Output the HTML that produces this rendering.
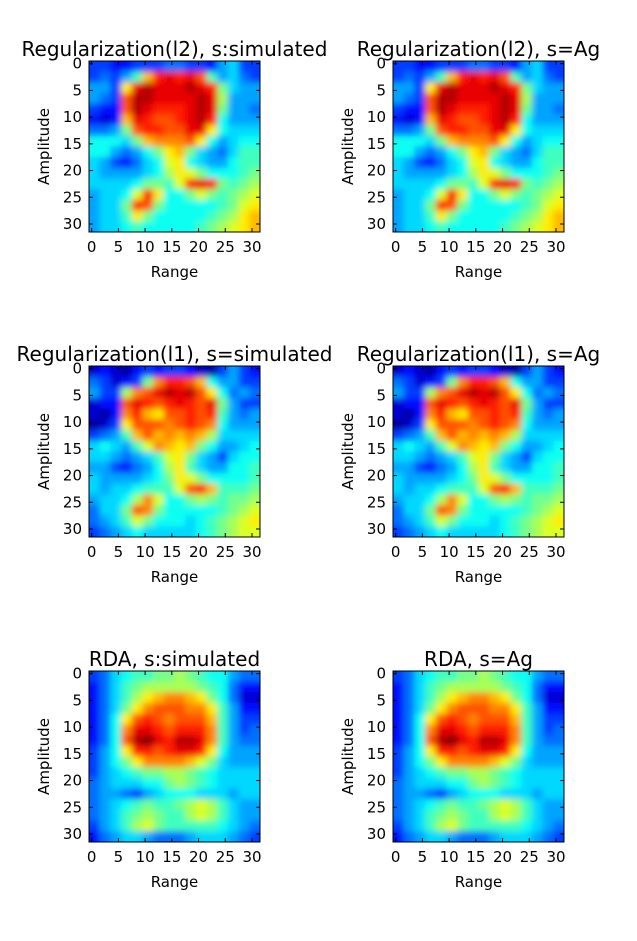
<!DOCTYPE html>
<html><head><meta charset="utf-8"><style>
html,body{margin:0;padding:0;background:#fff;}
svg{display:block;font-family:"DejaVu Sans","Liberation Sans",sans-serif;}
</style></head><body>
<svg id="fig" width="637" height="941" viewBox="0 0 637 941">
<defs>
<filter id="bl" x="0" y="0" width="637" height="941" filterUnits="userSpaceOnUse"><feGaussianBlur stdDeviation="3.3"/></filter>
</defs>
</svg>
<script>
const ticks=[0,5,10,15,20,25,30];
const tickLabels=["0","5","10","15","20","25","30"];
const titles=["Regularization(l2), s:simulated","Regularization(l2), s=Ag","Regularization(l1), s=simulated","Regularization(l1), s=Ag","RDA, s:simulated","RDA, s=Ag"];
const gridL2=[
[2,2,1.5,1.5,2,2,2,2.5,2.5,2,2,1.5,3,3.5,2,2],
[2,2.5,2,3,4.5,7,8.5,9,8.5,9,8,4.5,3,3.5,2.5,2],
[3,3,2,6.5,9,9.5,9,9,9,9.5,9,8.5,5,3.5,3,3],
[3,2.5,2,8,9.5,9.5,9,9,9,9,9.5,9,5.5,3,3,3],
[2,1.5,1.5,8,9.5,9,8.5,8.5,8.5,9,9.5,9,5,3,3,2.5],
[1.5,1,1.5,7,9,8.5,8,8,8.5,9,9.5,8.5,4,3,3,3],
[2.5,2.5,3,5,8,8.5,8.5,8,8,9,9,6.5,4,3.5,3.5,3.5],
[4,4,4,3.5,5,7,7.5,7.5,7.5,8,6.5,4,3,3.5,4,4],
[4,4,3,2.5,3,4,5,6.5,7,5,3.5,3,2.5,3.5,4.5,4.5],
[3.5,3,2,1.5,2.5,3.5,4,6,6.5,4,3.5,3,3,4,4.5,4.5],
[3.5,3,3,3,3,3.5,4,5.5,6.5,6,5,4,4,4,4.5,5],
[3.5,3.5,3.5,3.5,4,5,5,4.5,6,8.5,9,8.5,5,4.5,5,5.5],
[3,3.5,3.5,4,6,8.5,6.5,4,4,5,6,5,4.5,5,5.5,6],
[3,3.5,3.5,5,8.5,8,5,4,4,4,4,4,4.5,5,6,6.5],
[3,3.5,3.5,4.5,6.5,5,4,4,4,4,4,4.5,5,5.5,6.5,7],
[3,3.5,3.5,4,4.5,4,4,4,4,4,4.5,5,5.5,6,6.5,7]];
const gridL1=[
[1,1.5,1,0.5,1.5,2,1.5,2,2,1.5,1,0.5,2,3,2,1.5],
[2.5,2,1,1.5,2,5,7.5,8.5,8.5,8,7,4,3,3,2,2],
[3,2,2,5.5,7.5,8,9,9.5,9,9.5,8,6.5,4,2.5,3,2.5],
[1,1.5,1.5,8,9,8.5,8,8.5,9,8.5,8,9,5,3,2,2],
[1,0.5,1.5,7.5,8.5,7,6.5,8,8,8.5,8,8.5,4.5,3,2.5,3],
[0.5,1,2,6.5,8,8,8,7.5,8,8.5,8,7.5,4,3,3,3],
[2,2.5,3,4.5,7,8,7,7.5,7,7.5,7,5.5,3.5,3.5,3.5,3.5],
[3.5,4,3.5,3,4.5,6,7.5,7,6.5,7,5,4,3,3,3.5,4],
[3.5,3.5,3,2.5,3,3.5,4.5,6,6.5,5,3.5,3,2,3.5,4,4],
[3,3,2,1.5,2.5,3,4,5.5,6.5,4.5,3.5,3,3,4,4,4.5],
[3.5,3,3,3,3,3.5,4,5,6.5,6,5,4,4,4,4,4.5],
[3.5,3,3.5,3.5,4,4.5,4.5,4.5,6,8,8.5,7,4.5,4.5,4.5,5],
[3,3.5,3.5,4,5.5,7.5,6,4,4,5,5.5,5,4.5,5,5,5.5],
[2.5,3.5,3.5,5,8,7.5,5,4,4,4,4,4,4.5,5,5.5,6],
[2.5,3,3.5,4.5,6,5,4,4,4,3.5,4,4.5,5,5.5,6,6.5],
[2,2.5,3,3.5,4,3.5,3.5,3.5,3.5,3.5,4,4.5,5,5.5,6,6]];
const gridRDA=[
[2,2.5,3.5,4,4.5,4.5,5,5,5.5,5,4.5,4,4,3,2.5,2.5],
[1.5,2.5,3.5,4.5,5,5.5,5.5,5.5,5.5,5.5,5,4.5,4,2.5,1.5,1.5],
[1.5,2.5,3.5,4.5,5.5,6.5,7,7.5,7.5,7,6.5,5,4,2.5,1,1],
[1.5,2.5,3.5,5,6.5,7.5,8,8,8,7.5,7.5,6.5,4.5,3,1.5,1.5],
[1.5,2.5,4,6.5,8,8.5,8,7.5,8,8,8,7,4.5,3,2,2],
[1.5,2.5,4,7.5,9,9,8.5,8,8.5,8.5,8.5,7.5,4.5,3,2,2.5],
[1.5,2.5,4,8,9.5,10,9,8.5,9.5,9.5,9,7.5,4.5,3,2.5,2.5],
[2,3,4,6.5,8.5,8.5,8,8.5,9,9,8.5,6.5,4,3,3,3],
[2,3,4,5,6.5,7.5,7.5,7.5,7.5,7,6,5,3.5,3,3,3],
[2,3,3.5,4,4.5,5,5,5.5,5.5,5,4.5,4,3.5,3.5,3.5,3.5],
[2.5,3,3.5,3.5,3.5,4,4,5,5.5,5,4.5,4,3.5,3.5,3.5,3.5],
[2.5,3,3,2.5,2,3,3.5,4,4,4,3.5,3.5,3.5,3,3.5,3.5],
[2.5,3,3.5,4,4.5,5,4.5,4.5,5,5.5,6,5.5,4.5,3.5,3,3],
[2.5,3,3.5,4.5,5,5.5,5,4.5,4.5,5.5,6,5.5,4.5,3.5,3,3],
[2,3,3.5,4.5,5.5,6,5,4.5,4.5,4.5,4.5,4.5,4,3.5,3,2.5],
[1.5,2.5,3,3.5,3.5,3,2.5,2.5,2.5,3,3.5,3.5,3.5,3,2.5,2]];
const panelGrids=[gridL2,gridL2,gridL1,gridL1,gridRDA,gridRDA];

const NS="http://www.w3.org/2000/svg";
const svg=document.getElementById('fig');
const colX=[89,393], rowY=[61,366,671], SZ=171;
function jet(v){const t=Math.max(0,Math.min(1,(v-0.2)/9.8));
 const c=x=>Math.round(255*Math.max(0,Math.min(1,x)));
 return `rgb(${c(1.5-Math.abs(4*t-3))},${c(1.5-Math.abs(4*t-2))},${c(1.5-Math.abs(4*t-1))})`;}
function mk(tag,attrs,parent){const e=document.createElementNS(NS,tag);for(const k in attrs)e.setAttribute(k,attrs[k]);parent.appendChild(e);return e;}

for(let p=0;p<6;p++){
 const x0=colX[p%2], y0=rowY[Math.floor(p/2)];
 const sx=u=>x0+(u+0.5)*SZ/32, sy=u=>y0+(u+0.5)*SZ/32;
 const g=mk('g',{},svg);
 
 
 const clipId='cl'+p;
 const cp=mk('clipPath',{id:clipId},svg.querySelector('defs'));
 mk('rect',{x:x0,y:y0,width:SZ,height:SZ},cp);
 const hg=mk('g',{'clip-path':`url(#${clipId})`},g);
 
 
 const inner=mk('g',{filter:'url(#bl)'},hg);
 const grid=panelGrids[p];
 const nR=grid.length;
 for(let r=0;r<nR;r++){const nC=grid[r].length;for(let c=0;c<nC;c++){
  let xa=sx(c*2-0.5), xb=sx(c*2+1.5)+0.5, ya=sy(r*2-0.5), yb=sy(r*2+1.5)+0.5;
  if(c===0)xa-=15; if(c===nC-1)xb+=15; if(r===0)ya-=15; if(r===nR-1)yb+=15;
  const cell=mk('rect',{x:xa,y:ya,width:xb-xa,height:yb-ya,fill:jet(grid[r][c])},inner);
  
  
 }}
 const fr=mk('rect',{x:x0,y:y0,width:SZ,height:SZ,fill:'none',stroke:'#000','stroke-width':1},g);
 
 
 ticks.forEach((t,i)=>{
  const X=sx(t), Y=sy(t);
  mk('line',{x1:X,x2:X,y1:y0+SZ,y2:y0+SZ-4,stroke:'#000'},g);
  mk('line',{x1:X,x2:X,y1:y0,y2:y0+4,stroke:'#000'},g);
  mk('line',{x1:x0,x2:x0+4,y1:Y,y2:Y,stroke:'#000'},g);
  mk('line',{x1:x0+SZ,x2:x0+SZ-4,y1:Y,y2:Y,stroke:'#000'},g);
  const xt=mk('text',{x:X,y:y0+SZ+20,'text-anchor':'middle','font-size':15},g);xt.textContent=tickLabels[i];
  
  
  const yt=mk('text',{x:x0-7,y:Y+5,'text-anchor':'end','font-size':15},g);yt.textContent=tickLabels[i];
  
  
 });
 const xl=mk('text',{x:x0+SZ/2,y:y0+SZ+45,'text-anchor':'middle','font-size':15},g);xl.textContent='Range';
 
 
 const yl=mk('text',{x:0,y:0,'text-anchor':'middle','font-size':15,transform:`translate(${x0-40},${y0+SZ/2}) rotate(-90)`},g);yl.textContent='Amplitude';
 
 
 const tt=mk('text',{x:x0+SZ/2,y:y0-5,'text-anchor':'middle','font-size':20},g);tt.textContent=titles[p];
 
 
}
</script>
</body></html>
